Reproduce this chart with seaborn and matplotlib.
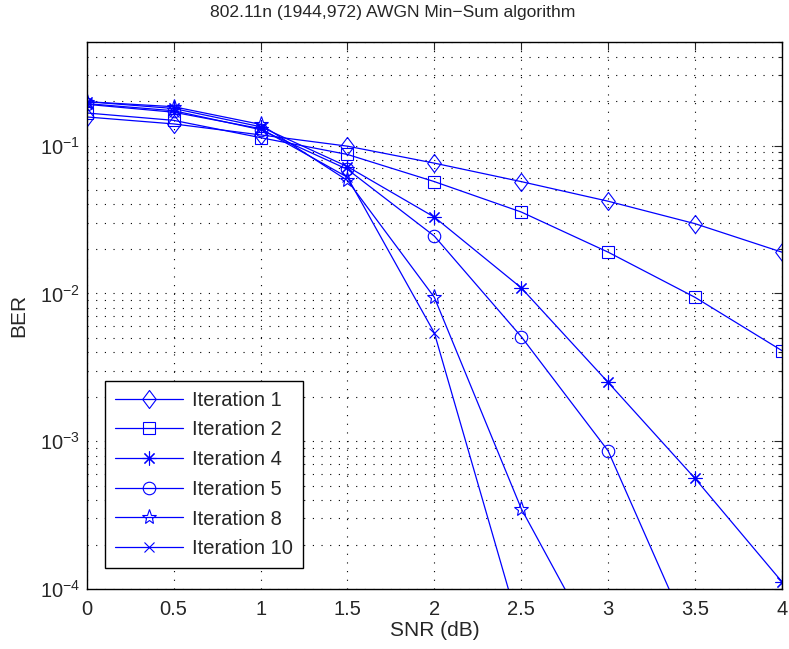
import numpy as np
import pandas as pd
import matplotlib
matplotlib.use("Agg")
import matplotlib.pyplot as plt
import seaborn as sns
from matplotlib.ticker import LogLocator, NullFormatter, MultipleLocator, FormatStrFormatter
from matplotlib.path import Path

sns.set_style("white")
plt.rcParams['font.family'] = ['Liberation Sans', 'DejaVu Sans']
plt.rcParams['mathtext.fontset'] = 'custom'
plt.rcParams['mathtext.rm'] = 'Liberation Sans'
plt.rcParams['mathtext.it'] = 'Liberation Sans'

snr = [0, 0.5, 1, 1.5, 2, 2.5, 3, 3.5, 4]
labels = ["Iteration 1", "Iteration 2", "Iteration 4", "Iteration 5", "Iteration 8", "Iteration 10"]
iter1 = [0.156, 0.140, 0.118, 0.099, 0.076, 0.057, 0.042, 0.0296, 0.019]
iter2 = [0.166, 0.148, 0.113, 0.087, 0.057, 0.0355, 0.019, 0.0094, 0.0041]
iter4 = [0.198, 0.178, 0.134, 0.072, 0.0328, 0.0109, 0.0025, 0.00056, 0.000112]
iter5 = [0.192, 0.172, 0.128, 0.069, 0.0244, 0.0051, 0.00086, 0.00004]
iter8 = [0.198, 0.183, 0.139, 0.058, 0.0094, 0.00035, 0.000029]
iter10 = [0.190, 0.168, 0.130, 0.061, 0.0054, 0.00005]
series = [iter1, iter2, iter4, iter5, iter8, iter10]

diamond = Path([(0, 1), (0.75, 0), (0, -1), (-0.75, 0), (0, 1)],
               [Path.MOVETO, Path.LINETO, Path.LINETO, Path.LINETO, Path.CLOSEPOLY])
markers = [diamond, 's', (8, 2, 0), 'o', '*', 'x']
msizes = [13, 8, 10, 9, 11, 7]
blue = (0, 0, 1)

fig = plt.figure(figsize=(7.89, 6.49), dpi=100)
ax = fig.add_axes([0.110, 0.0924, 0.881, 0.8426])

for lab, vals, m, ms in zip(labels, series, markers, msizes):
    df = pd.DataFrame({"SNR": snr[:len(vals)], "BER": vals})
    sns.lineplot(data=df, x="SNR", y="BER", ax=ax, color=blue, marker=m,
                 markersize=ms, markerfacecolor='none', markeredgecolor=blue,
                 markeredgewidth=0.8, linewidth=0.9, label=lab, clip_on=True)

ax.set_yscale('log')
ax.set_ylim(1e-4, 0.5)
ax.set_xlim(0, 4)
ax.xaxis.set_major_locator(MultipleLocator(0.5))
ax.xaxis.set_major_formatter(FormatStrFormatter('%g'))
ax.yaxis.set_major_locator(LogLocator(base=10, numticks=10))
ax.yaxis.set_minor_locator(LogLocator(base=10, subs=np.arange(2, 10), numticks=20))
ax.yaxis.set_minor_formatter(NullFormatter())

grid_ls = (0, (1, 6.8))
ax.grid(True, which='major', linestyle=grid_ls, color='black', linewidth=0.8)
ax.grid(True, which='minor', axis='y', linestyle=grid_ls, color='black', linewidth=0.8)
ax.tick_params(which='both', direction='in', top=True, right=True, labelsize=14.5)
ax.tick_params(axis='x', pad=8)
ax.tick_params(axis='y', pad=5)
ax.tick_params(which='major', length=6, width=0.8)
ax.tick_params(which='minor', length=3, width=0.8)
for s in ax.spines.values():
    s.set_visible(True)
    s.set_color('black')
    s.set_linewidth(1.0)

fig.text(393 / 789, 1 - 13 / 649, "802.11n (1944,972) AWGN Min\u2212Sum algorithm",
         fontsize=12.6, ha='center', va='center')
ax.set_xlabel("SNR (dB)", fontsize=15, labelpad=1)
ax.set_ylabel("BER", fontsize=15, labelpad=8)

leg = ax.legend(loc='lower left', bbox_to_anchor=(0.026, 0.038), fontsize=14.5,
                frameon=True, fancybox=False, edgecolor='black', framealpha=1,
                handlelength=3.4, borderpad=0.5, labelspacing=0.53, handletextpad=0.45,
                borderaxespad=0)
leg.get_frame().set_linewidth(1.0)

fig.savefig("out.png", dpi=100)
